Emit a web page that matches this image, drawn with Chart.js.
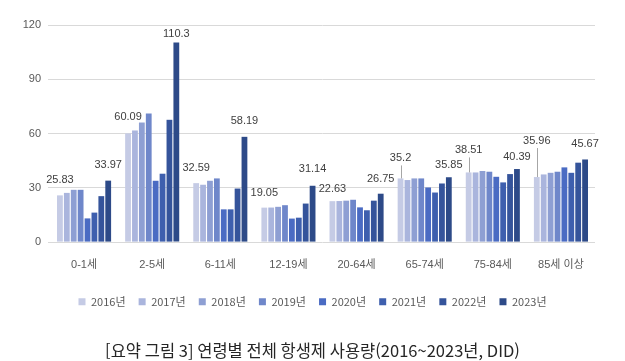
<!DOCTYPE html>
<html lang="ko">
<head>
<meta charset="utf-8">
<script src="https://cdn.jsdelivr.net/npm/chart.js@4/dist/chart.umd.min.js"></script>
<style>
  html, body { margin: 0; padding: 0; background: #ffffff; }
  #wrap { width: 625px; height: 361px; }
</style>
</head>
<body>
<div id="wrap"><canvas id="c" width="625" height="361"></canvas></div>
<script>
// ---- data ----
const categories = ['0-1세', '2-5세', '6-11세', '12-19세', '20-64세', '65-74세', '75-84세', '85세 이상'];
const seriesNames = ['2016년', '2017년', '2018년', '2019년', '2020년', '2021년', '2022년', '2023년'];
const y2016 = [25.83, 60.09, 32.59, 19.05, 22.63, 35.2, 38.51, 35.96];
const y2017 = [27.2, 61.7, 31.7, 19.1, 22.7, 34.3, 38.5, 37.4];
const y2018 = [28.9, 66.1, 33.9, 19.5, 22.9, 35.2, 39.3, 38.3];
const y2019 = [28.9, 71.1, 35.2, 20.4, 23.4, 35.2, 38.9, 38.9];
const y2020 = [13.1, 33.9, 18.1, 13.0, 19.2, 30.2, 36.1, 41.3];
const y2021 = [16.3, 37.8, 18.1, 13.5, 17.6, 27.4, 33.0, 38.3];
const y2022 = [25.4, 67.6, 29.6, 21.3, 22.9, 32.4, 37.6, 43.9];
const y2023 = [33.97, 110.3, 58.19, 31.14, 26.75, 35.85, 40.39, 45.67];
const yTicks = [0, 30, 60, 90, 120];
const caption = '[요약 그림 3] 연령별 전체 항생제 사용량(2016~2023년, DID)';

// ---- styles ----
const colors = ['#c5cbe5', '#aab5dd', '#8e9fd3', '#6f87ca', '#4a6bc3', '#3e5fae', '#35549b', '#2d4a88'];
const allSeries = [y2016, y2017, y2018, y2019, y2020, y2021, y2022, y2023];

// label placement (pixels above bar top) for the labelled series
const labelStyle = {
  series: {
    0: { lift: [15, 16, 15, 15, 12.5, 20, 22, 36], leader: [false, false, false, false, false, true, true, true] },
    7: { lift: [16, 8.5, 16, 16.5, 15, 12, 12, 16], leader: [false, false, false, false, false, false, false, false] }
  }
};

const valueLabels = {
  id: 'valueLabels',
  afterDatasetsDraw(chart) {
    const ctx = chart.ctx;
    ctx.save();
    ctx.font = '11px "Liberation Sans", Arial, sans-serif';
    ctx.fillStyle = '#404040';
    ctx.textAlign = 'center';
    ctx.textBaseline = 'middle';
    Object.keys(labelStyle.series).forEach(k => {
      const di = +k;
      const cfg = labelStyle.series[k];
      const meta = chart.getDatasetMeta(di);
      meta.data.forEach((el, i) => {
        const v = chart.data.datasets[di].data[i];
        const ty = el.y - cfg.lift[i];
        ctx.fillText(String(v), el.x, ty);
        if (cfg.leader[i]) {
          ctx.strokeStyle = '#a6a6a6';
          ctx.lineWidth = 1;
          ctx.beginPath();
          ctx.moveTo(Math.round(el.x) + 0.5, ty + 7);
          ctx.lineTo(Math.round(el.x) + 0.5, el.y);
          ctx.stroke();
        }
      });
    });
    ctx.restore();
  }
};

new Chart(document.getElementById('c'), {
  type: 'bar',
  data: {
    labels: categories,
    datasets: allSeries.map((d, i) => ({
      label: seriesNames[i],
      data: d,
      backgroundColor: colors[i],
      borderWidth: 0,
      categoryPercentage: 0.81,
      barPercentage: 0.84
    }))
  },
  options: {
    responsive: false,
    devicePixelRatio: 1,
    animation: false,
    layout: { padding: { top: 25, left: 20, right: 20, bottom: 0 } },
    scales: {
      x: {
        grid: { display: false, drawTicks: false },
        border: { display: false },
        afterFit: (scale) => { scale.height = 41; },
        ticks: {
          padding: 16.5,
          color: '#595959',
          font: { family: '"Liberation Sans", "Noto Sans CJK KR", sans-serif', size: 11 }
        }
      },
      y: {
        min: 0,
        max: 120,
        afterBuildTicks: (axis) => { axis.ticks = yTicks.map(v => ({ value: v })); },
        afterFit: (scale) => { scale.width = 30; },
        grid: { color: '#d9d9d9', lineWidth: 1, tickLength: 2, drawTicks: true },
        border: { display: false },
        ticks: {
          padding: 7,
          color: '#595959',
          font: { family: '"Liberation Sans", Arial, sans-serif', size: 11 }
        }
      },
      yRight: {
        position: 'right',
        display: true,
        grid: { display: false, drawTicks: false },
        border: { display: false },
        ticks: { display: false },
        afterFit: (scale) => { scale.width = 10; }
      }
    },
    plugins: {
      legend: {
        position: 'bottom',
        labels: {
          boxWidth: 7,
          boxHeight: 7,
          padding: 13.1,
          color: '#595959',
          font: { family: '"Liberation Sans Narrow", "Noto Sans CJK KR", sans-serif', size: 11 }
        }
      },
      title: {
        display: true,
        text: caption,
        position: 'bottom',
        color: '#262626',
        padding: { top: 24, bottom: 0 },
        font: { family: '"Liberation Sans Narrow", "Noto Sans CJK KR", sans-serif', size: 16.5, weight: 'normal', lineHeight: 1.2 }
      },
      tooltip: { enabled: false }
    }
  },
  plugins: [valueLabels]
});
</script>
</body>
</html>
